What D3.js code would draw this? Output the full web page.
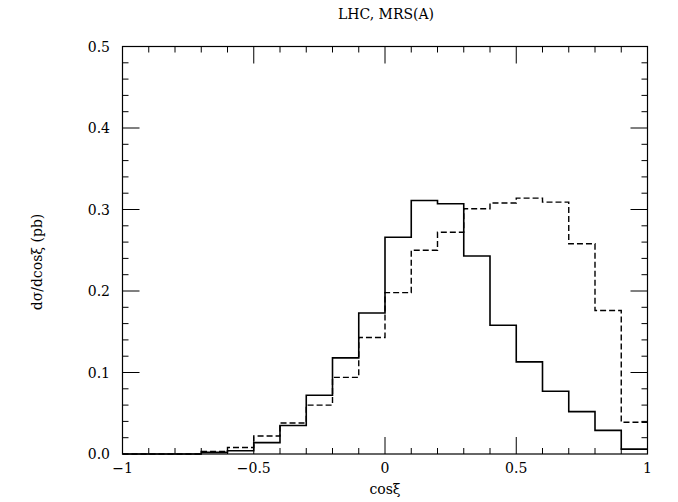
<!DOCTYPE html>
<html>
<head>
<meta charset="utf-8">
<script src="https://cdn.jsdelivr.net/npm/d3@7"></script>
<style>
  body { margin: 0; background: #fff; }
  svg { display: block; }
  text { font-family: "DejaVu Serif", "Liberation Serif", serif; fill: #000; }
</style>
</head>
<body>
<svg id="chart" width="678" height="502"></svg>
<script>
// bin edges (cos xi), 20 bins of width 0.1 from -1 to 1
const binEdges = [-1,-0.9,-0.8,-0.7,-0.6,-0.5,-0.4,-0.3,-0.2,-0.1,0,0.1,0.2,0.3,0.4,0.5,0.6,0.7,0.8,0.9,1];
// solid histogram
const solidValues = [0,0,0,0.002,0.004,0.014,0.035,0.072,0.118,0.173,0.266,0.311,0.307,0.243,0.158,0.113,0.077,0.052,0.029,0.006];
// dashed histogram
const dashedValues = [0,0,0,0.003,0.008,0.022,0.038,0.060,0.094,0.143,0.198,0.250,0.272,0.301,0.308,0.314,0.309,0.258,0.176,0.039];
const xTickValues = [-1,-0.5,0,0.5,1];
const xTickLabels = ["\u22121","\u22120.5","0","0.5","1"];
const yTickValues = [0,0.1,0.2,0.3,0.4,0.5];
const yTickLabels = ["0.0","0.1","0.2","0.3","0.4","0.5"];
const titleText = "LHC, MRS(A)";
const xTitle = "cos\u03BE";
const yTitle = "d\u03C3/dcos\u03BE (pb)";

const svg = d3.select("#chart");
const L = 122.5, R = 647.5, T = 46.5, B = 454;
const x = d3.scaleLinear().domain([-1, 1]).range([L, R]);
const y = d3.scaleLinear().domain([0, 0.5]).range([B, T]);

// frame
svg.append("rect").attr("x", L).attr("y", T).attr("width", R - L).attr("height", B - T)
  .attr("fill", "none").attr("stroke", "#000").attr("stroke-width", 1.2);

const majorLen = 17, minorLen = 6;
const tickG = svg.append("g").attr("stroke", "#000").attr("stroke-width", 1);
// x ticks (bottom and top, inward)
d3.range(-10, 11).forEach(i => {
  const v = i / 10;
  const major = Math.abs(i % 5) === 0;
  const len = major ? majorLen : minorLen;
  const px = x(v);
  if (i > -10 && i < 10) {
    tickG.append("line").attr("x1", px).attr("x2", px).attr("y1", B).attr("y2", B - len);
    tickG.append("line").attr("x1", px).attr("x2", px).attr("y1", T).attr("y2", T + len);
  }
});
// y ticks (left and right, inward)
d3.range(0, 26).forEach(i => {
  const v = i * 0.02;
  const major = i % 5 === 0;
  const len = major ? majorLen : minorLen;
  const py = y(v);
  if (i > 0 && i < 25) {
    tickG.append("line").attr("x1", L).attr("x2", L + len).attr("y1", py).attr("y2", py);
    tickG.append("line").attr("x1", R).attr("x2", R - len).attr("y1", py).attr("y2", py);
  }
});

// tick labels
svg.append("g").selectAll("text").data(xTickValues).join("text")
  .attr("x", d => x(d)).attr("y", 473)
  .attr("text-anchor", "middle").attr("font-size", 14)
  .text((d, i) => xTickLabels[i]);
svg.append("g").selectAll("text").data(yTickValues).join("text")
  .attr("x", 110).attr("y", d => y(d) + 5)
  .attr("text-anchor", "end").attr("font-size", 14)
  .text((d, i) => yTickLabels[i]);

// titles
svg.append("text").attr("x", 386).attr("y", 19).attr("text-anchor", "middle")
  .attr("font-size", 14).text(titleText);
svg.append("text").attr("x", 385).attr("y", 494).attr("text-anchor", "middle")
  .attr("font-size", 14).text(xTitle);
svg.append("text").attr("transform", "translate(42,262) rotate(-90)")
  .attr("text-anchor", "middle").attr("font-size", 14).text(yTitle);

// histograms as step lines
function stepPoints(vals) {
  const pts = [];
  vals.forEach((v, i) => {
    pts.push([binEdges[i], v]);
    pts.push([binEdges[i + 1], v]);
  });
  return pts;
}
const line = d3.line().x(d => x(d[0])).y(d => y(d[1]));
svg.append("path").attr("d", line(stepPoints(dashedValues)))
  .attr("fill", "none").attr("stroke", "#000").attr("stroke-width", 1.4)
  .attr("stroke-dasharray", "6,3");
svg.append("path").attr("d", line(stepPoints(solidValues)))
  .attr("fill", "none").attr("stroke", "#000").attr("stroke-width", 1.6);
</script>
</body>
</html>
